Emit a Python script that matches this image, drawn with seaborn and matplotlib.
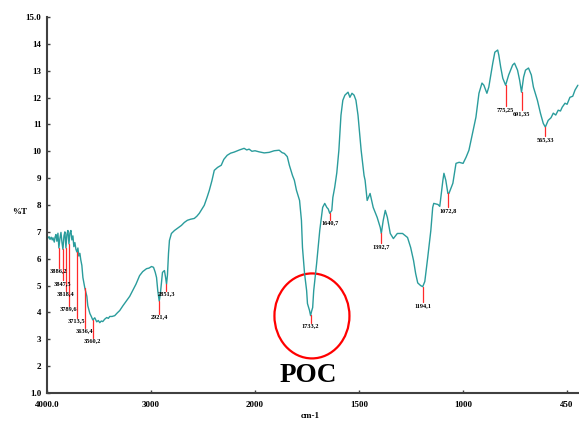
import numpy as np
import pandas as pd
import seaborn as sns
import matplotlib.pyplot as plt
from matplotlib.patches import Ellipse

# FTIR spectrum (wavenumber in cm-1, %T)
wavenumber = [4000, 3990, 3980, 3971, 3960, 3950, 3943, 3930, 3923, 3914, 3905, 3895,
              3886, 3876, 3866, 3856, 3847, 3837, 3828, 3818, 3809, 3799, 3789, 3780,
              3770, 3761, 3751, 3742, 3732, 3722, 3713, 3703, 3694, 3684, 3675, 3665,
              3655, 3646, 3636, 3626, 3617, 3608, 3598, 3588, 3574, 3560, 3541, 3522,
              3507, 3493, 3478, 3464, 3445, 3426, 3410, 3397, 3375, 3349, 3325, 3301,
              3270, 3234, 3205, 3177, 3145, 3110, 3080, 3043, 3020, 2995, 2976, 2960,
              2947, 2935, 2921, 2909, 2890, 2871, 2860, 2851, 2842, 2832, 2823, 2804,
              2775, 2740, 2708, 2680, 2651, 2620, 2584, 2560, 2536, 2510, 2488, 2460,
              2440, 2415, 2392, 2360, 2325, 2300, 2268, 2235, 2201, 2150, 2105, 2080,
              2057, 2030, 2000, 1981, 1956, 1932, 1908, 1884, 1870, 1859, 1845, 1835,
              1820, 1811, 1801, 1786, 1777, 1772, 1762, 1752, 1748, 1738, 1733, 1728,
              1723, 1718, 1704, 1689, 1675, 1665, 1655, 1648, 1641, 1631, 1626, 1617,
              1607, 1597, 1587, 1578, 1568, 1553, 1544, 1534, 1524, 1515, 1505, 1490,
              1476, 1471, 1461, 1447, 1432, 1413, 1398, 1393, 1384, 1374, 1364, 1350,
              1335, 1316, 1291, 1267, 1252, 1238, 1228, 1218, 1204, 1194, 1184, 1170,
              1155, 1146, 1141, 1121, 1112, 1097, 1092, 1083, 1073, 1068, 1049, 1034,
              1019, 1000, 984, 969, 958, 932, 916, 900, 890, 874, 864, 843,
              832, 817, 811, 801, 790, 775, 759, 738, 728, 712, 701, 691,
              680, 670, 654, 639, 628, 607, 591, 576, 565, 550, 535, 523,
              510, 497, 485, 476, 461, 450, 435, 420, 408, 393]
transmittance = [6.85, 6.77, 6.82, 6.72, 6.80, 6.70, 6.78, 6.62, 6.80, 6.90, 6.65, 6.95,
                 6.40, 6.75, 6.98, 6.60, 6.35, 6.85, 7.00, 6.40, 6.90, 7.05, 6.55, 6.95,
                 7.05, 6.70, 6.85, 6.45, 6.60, 6.35, 6.25, 6.40, 6.10, 6.20, 5.95, 5.75,
                 5.30, 5.10, 4.90, 4.75, 4.60, 4.25, 4.10, 3.96, 3.85, 3.72, 3.80, 3.65,
                 3.70, 3.62, 3.68, 3.66, 3.75, 3.81, 3.78, 3.85, 3.85, 3.88, 3.98, 4.07,
                 4.25, 4.44, 4.60, 4.81, 5.05, 5.37, 5.52, 5.63, 5.65, 5.71, 5.68, 5.50,
                 5.30, 4.80, 4.42, 4.74, 5.49, 5.56, 5.30, 5.05, 5.40, 6.20, 6.68, 6.94,
                 7.05, 7.15, 7.24, 7.35, 7.43, 7.47, 7.50, 7.58, 7.69, 7.85, 7.99, 8.30,
                 8.54, 8.90, 9.29, 9.40, 9.48, 9.70, 9.85, 9.93, 9.97, 10.05, 10.11, 10.05,
                 10.08, 10.00, 10.02, 9.98, 9.94, 9.96, 10.02, 10.04, 9.95, 9.92, 9.80, 9.48,
                 9.10, 8.92, 8.55, 8.17, 7.43, 6.42, 5.45, 4.81, 4.33, 4.07, 3.88, 4.05,
                 4.18, 4.81, 5.82, 7.05, 7.91, 8.06, 7.91, 7.85, 7.69, 7.80, 8.28, 8.66,
                 9.20, 10.04, 11.34, 11.90, 12.09, 12.20, 12.01, 12.16, 12.09, 11.90, 11.34, 10.04,
                 9.10, 8.92, 8.17, 8.43, 7.91, 7.54, 7.16, 6.94, 7.42, 7.80, 7.54, 6.94,
                 6.75, 6.94, 6.94, 6.79, 6.42, 5.93, 5.45, 5.10, 5.00, 4.96, 5.15, 6.04,
                 7.05, 7.91, 8.06, 8.02, 7.95, 8.92, 9.18, 8.92, 8.43, 8.43, 8.81, 9.55,
                 9.59, 9.55, 9.78, 10.04, 10.41, 11.27, 12.16, 12.54, 12.46, 12.16, 12.39, 13.28,
                 13.69, 13.77, 13.58, 13.13, 12.72, 12.46, 12.84, 13.21, 13.28, 13.02, 12.65, 12.20,
                 12.76, 13.02, 13.10, 12.84, 12.39, 11.90, 11.42, 11.04, 10.90, 11.15, 11.25, 11.42,
                 11.35, 11.53, 11.50, 11.64, 11.79, 11.75, 12.01, 12.05, 12.28, 12.46]

# marked peaks, their labels and where each label sits (%T of label top)
peak_wn = [3886, 3847, 3818, 3789, 3713, 3636, 3560, 2921.4, 2851.3, 1733.2,
           1641, 1393, 1194, 1073, 775, 691, 565]
peak_labels = ["3886,2", "3847,5", "3818,4", "3789,6", "3713,5", "3636,4", "3560,2",
               "2921,4", "2851,3", "1733,2", "1640,7", "1392,7", "1194,1", "1072,8",
               "775,25", "691,35", "565,33"]
label_top = [5.67, 5.19, 4.81, 4.25, 3.81, 3.43, 3.06, 3.96, 4.81, 3.62,
             7.46, 6.57, 4.37, 7.91, 11.68, 11.53, 10.56]

# piecewise x axis as on the instrument printout
knots = np.array([450, 1000, 1500, 2000, 3000, 4000], float)
knot_pos = np.arange(6, dtype=float)


def fwd(w):
    w = np.asarray(w, float)
    p = np.interp(w, knots, knot_pos)
    p = np.where(w < 450, (w - 450) / 550.0, p)
    p = np.where(w > 4000, 5 + (w - 4000) / 1000.0, p)
    return p


def inv(p):
    p = np.asarray(p, float)
    w = np.interp(p, knot_pos, knots)
    w = np.where(p < 0, 450 + p * 550.0, w)
    w = np.where(p > 5, 4000 + (p - 5) * 1000.0, w)
    return w


df = pd.DataFrame({"wn": wavenumber, "T": transmittance})

sns.set_style("ticks")
plt.rcParams["font.family"] = ["Liberation Serif", "DejaVu Serif"]
plt.rcParams["text.color"] = "black"
plt.rcParams["xtick.labelcolor"] = "black"
plt.rcParams["ytick.labelcolor"] = "black"

fig = plt.figure(figsize=(5.79, 4.24), dpi=100)
ax = fig.add_axes([0.0812, 0.0731, 0.9188, 0.8868])
ax.set_xscale("function", functions=(fwd, inv))

sns.lineplot(data=df, x="wn", y="T", ax=ax, color="#2a9c9c", linewidth=1.0,
             sort=False, estimator=None)

ax.set_xlim(4000, 387)
ax.set_ylim(1, 15)
ax.set_xticks([4000, 3000, 2000, 1500, 1000, 450])
ax.set_xticklabels(["4000.0", "3000", "2000", "1500", "1000", "450"])
ax.set_yticks(range(1, 16))
ax.set_yticklabels(["1.0"] + [str(i) for i in range(2, 15)] + ["15.0"])
for lab in ax.get_xticklabels() + ax.get_yticklabels():
    lab.set_fontweight("bold")
    lab.set_color("black")
ax.tick_params(axis="both", direction="in", length=2, width=1, labelsize=6.5,
               color="#404040")
ax.tick_params(axis="x", pad=6)
ax.tick_params(axis="y", pad=4)
sns.despine(ax=ax)
for s in ["left", "bottom"]:
    ax.spines[s].set_color("#404040")
    ax.spines[s].set_linewidth(1.5)
ax.set_xlabel("")
ax.set_ylabel("")

# peak markers
for wn, lab, top in zip(peak_wn, peak_labels, label_top):
    y0 = np.interp(-wn, -np.array(wavenumber, float), transmittance)
    ax.plot([wn, wn], [y0, top], color="#ff2a2a", linewidth=0.9)
    ax.text(wn, top - 0.03, lab, ha="center", va="top", fontsize=4.5,
            fontweight="bold", color="black")

# POC highlight
ax.add_patch(Ellipse((0.498, 0.205), 0.141, 0.226, transform=ax.transAxes,
                     fill=False, edgecolor="red", linewidth=1.6))
fig.text(308 / 579, 1 - 375 / 424, "POC", ha="center", va="center",
         fontsize=19.5, fontweight="bold", color="black")

fig.text(20 / 579, 1 - 212 / 424, "%T", ha="center", va="center",
         fontsize=6.5, fontweight="bold", color="black")
fig.text(310 / 579, 1 - 416 / 424, "cm-1", ha="center", va="center",
         fontsize=6.5, fontweight="bold", color="black")

fig.savefig("out.png", dpi=100)
